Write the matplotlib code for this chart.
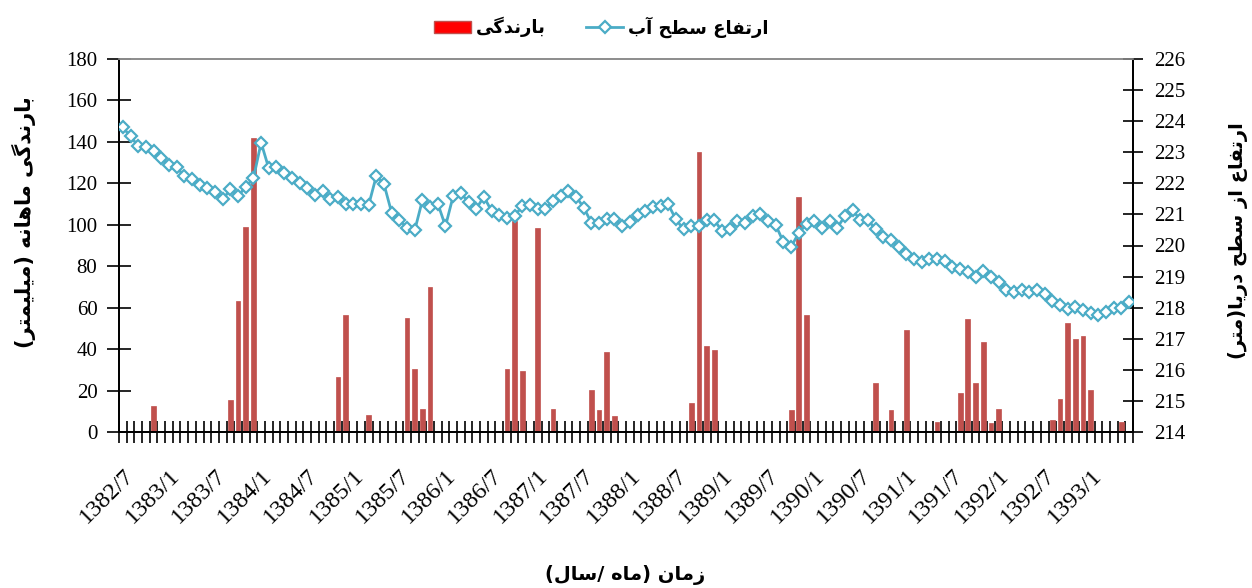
import numpy as np
import matplotlib
matplotlib.use("Agg")
import matplotlib.pyplot as plt
from matplotlib.patches import Patch
from matplotlib.lines import Line2D

plt.rcParams['font.family'] = ['Liberation Serif', 'DejaVu Sans']

# ---- data (monthly, 1382/7 .. 1393/6) ----
n_months = 132
rain_months = [4, 14, 15, 16, 17, 28, 29, 32, 37, 38, 39, 40, 50, 51, 52, 54, 56,
               61, 62, 63, 64, 74, 75, 76, 77, 87, 88, 89, 98, 100, 102, 106,
               109, 110, 111, 112, 113, 114, 121, 122, 123, 124, 125, 126, 130]
rain_values = [12.5, 15.5, 63, 99, 142, 26.5, 56.5, 8, 55, 30.5, 11, 70, 30.5, 102, 29.5, 98.5, 11,
               20.5, 10.5, 38.5, 7.5, 14, 135, 41.5, 39.5, 10.5, 113.5, 56.5, 23.5, 10.5, 49, 5,
               19, 54.5, 23.5, 43.5, 4.5, 11, 6, 16, 52.5, 45, 46.5, 20.5, 5]

level = [223.80, 223.51, 223.20, 223.17, 223.04, 222.80, 222.59, 222.51, 222.24, 222.13,
         221.94, 221.85, 221.72, 221.48, 221.81, 221.59, 221.89, 222.16, 223.31, 222.48,
         222.52, 222.32, 222.18, 222.02, 221.86, 221.62, 221.76, 221.48, 221.56, 221.34,
         221.34, 221.32, 221.30, 222.24, 221.97, 221.05, 220.82, 220.57, 220.49, 221.46,
         221.25, 221.35, 220.62, 221.59, 221.68, 221.40, 221.18, 221.57, 221.11, 220.98,
         220.89, 220.95, 221.27, 221.30, 221.16, 221.18, 221.43, 221.59, 221.75, 221.57,
         221.22, 220.73, 220.71, 220.84, 220.84, 220.62, 220.76, 220.97, 221.11, 221.24,
         221.27, 221.32, 220.84, 220.52, 220.62, 220.62, 220.82, 220.82, 220.46, 220.52,
         220.78, 220.71, 220.95, 221.02, 220.78, 220.65, 220.11, 219.96, 220.41, 220.68,
         220.78, 220.57, 220.78, 220.57, 220.95, 221.14, 220.82, 220.82, 220.52, 220.28,
         220.17, 219.95, 219.74, 219.55, 219.47, 219.58, 219.57, 219.49, 219.31, 219.23,
         219.14, 218.98, 219.19, 218.98, 218.83, 218.58, 218.51, 218.56, 218.51, 218.58,
         218.45, 218.20, 218.10, 217.96, 218.02, 217.94, 217.83, 217.77, 217.86, 217.99,
         217.99, 218.18]

tick_labels = ["1382/7", "1383/1", "1383/7", "1384/1", "1384/7", "1385/1", "1385/7",
               "1386/1", "1386/7", "1387/1", "1387/7", "1388/1", "1388/7", "1389/1",
               "1389/7", "1390/1", "1390/7", "1391/1", "1391/7", "1392/1", "1392/7",
               "1393/1"]

rain = np.zeros(n_months)
rain[rain_months] = rain_values

# ---- minimal persian shaping (matplotlib has no bidi / joining) ----
FORMS = {
    'ا': ('\uFE8D', '\uFE8E', None, None),
    'آ': ('\uFE81', '\uFE82', None, None),
    'ب': ('\uFE8F', '\uFE90', '\uFE91', '\uFE92'),
    'ت': ('\uFE95', '\uFE96', '\uFE97', '\uFE98'),
    'ح': ('\uFEA1', '\uFEA2', '\uFEA3', '\uFEA4'),
    'د': ('\uFEA9', '\uFEAA', None, None),
    'ر': ('\uFEAD', '\uFEAE', None, None),
    'ز': ('\uFEAF', '\uFEB0', None, None),
    'س': ('\uFEB1', '\uFEB2', '\uFEB3', '\uFEB4'),
    'ط': ('\uFEC1', '\uFEC2', '\uFEC3', '\uFEC4'),
    'ع': ('\uFEC9', '\uFECA', '\uFECB', '\uFECC'),
    'ف': ('\uFED1', '\uFED2', '\uFED3', '\uFED4'),
    'ل': ('\uFEDD', '\uFEDE', '\uFEDF', '\uFEE0'),
    'م': ('\uFEE1', '\uFEE2', '\uFEE3', '\uFEE4'),
    'ن': ('\uFEE5', '\uFEE6', '\uFEE7', '\uFEE8'),
    'ه': ('\uFEE9', '\uFEEA', '\uFEEB', '\uFEEC'),
    'ی': ('\uFBFC', '\uFBFD', '\uFBFE', '\uFBFF'),
    'گ': ('\uFB92', '\uFB93', '\uFB94', '\uFB95'),
}


def fa(text):
    out = []
    for k, ch in enumerate(text):
        if ch not in FORMS:
            out.append({'(': ')', ')': '('}.get(ch, ch))
            continue
        iso, fin, ini, med = FORMS[ch]
        prev = text[k - 1] if k > 0 else ''
        nxt = text[k + 1] if k + 1 < len(text) else ''
        join_prev = prev in FORMS and FORMS[prev][2] is not None
        join_next = ini is not None and nxt in FORMS
        if join_prev and join_next:
            out.append(med)
        elif join_prev:
            out.append(fin)
        elif join_next:
            out.append(ini)
        else:
            out.append(iso)
    return ''.join(reversed(out))


W, H = 1252, 588
fig = plt.figure(figsize=(W / 100, H / 100), dpi=100)
ax = fig.add_axes([119 / W, 1 - 432 / H, (1133 - 119) / W, (432 - 59) / H])
ax2 = ax.twinx()

x = np.arange(n_months)
ax.bar(x, rain, width=0.62, color='#C0504D', edgecolor='#C0504D', linewidth=0.5, zorder=2)
ax2.plot(x, level, color='#4BACC6', lw=2, marker='D', ms=6, mfc='white',
         mec='#4BACC6', mew=1.6, zorder=3)

ax.set_xlim(-0.5, n_months - 0.5)
ax.set_ylim(0, 180)
ax2.set_ylim(214, 226)
ax.set_yticks(np.arange(0, 181, 20))
ax2.set_yticks(np.arange(214, 227, 1))

ax.set_xticks(np.arange(-0.5, n_months, 1))
ax.tick_params(axis='x', which='major', direction='inout', length=16, width=1.2,
               labelbottom=False)
ax.set_xticks(np.arange(0, n_months, 6), minor=True)
ax.set_xticklabels(tick_labels, minor=True, rotation=45, ha='right', va='top',
                   rotation_mode='anchor')
ax.tick_params(axis='x', which='minor', length=0, labelsize=17.5, pad=24)
ax.tick_params(axis='y', direction='inout', length=17, width=1.2, labelsize=15, pad=7)
ax2.tick_params(axis='y', direction='inout', length=15, width=1.2, labelsize=15, pad=8)

for a in (ax, ax2):
    a.spines['top'].set_color('#8c8c8c')
    a.spines['top'].set_linewidth(1.2)
    a.spines['left'].set_linewidth(1.3)
    a.spines['right'].set_linewidth(1.3)
    a.spines['bottom'].set_linewidth(1.3)

afont = dict(family='DejaVu Sans', weight='bold')
fig.text(625 / W, 1 - 575 / H, fa('زمان (ماه /سال)'), ha='center', va='center',
         size=14, **afont)
fig.text(24 / W, 1 - 222 / H, fa('بارندگی ماهانه (میلیمتر)'), ha='center', va='center',
         rotation=90, size=15, **afont)
fig.text(1238 / W, 1 - 241 / H, fa('ارتفاع از سطح دریا(متر)'), ha='center', va='center',
         rotation=90, size=14, **afont)

handles = [Patch(facecolor='#FF0000', edgecolor='#C0504D'),
           Line2D([], [], color='#4BACC6', lw=2, marker='D', ms=6, mfc='white',
                  mec='#4BACC6', mew=1.6)]
fig.legend(handles, [fa('بارندگی'), fa('ارتفاع سطح آب')], loc='center',
           bbox_to_anchor=(601 / W, 1 - 27 / H), ncol=2, frameon=False,
           prop=dict(family='DejaVu Sans', weight='bold', size=13),
           handlelength=2.1, columnspacing=2.2, handletextpad=0.25)

fig.savefig('out.png', dpi=100)
